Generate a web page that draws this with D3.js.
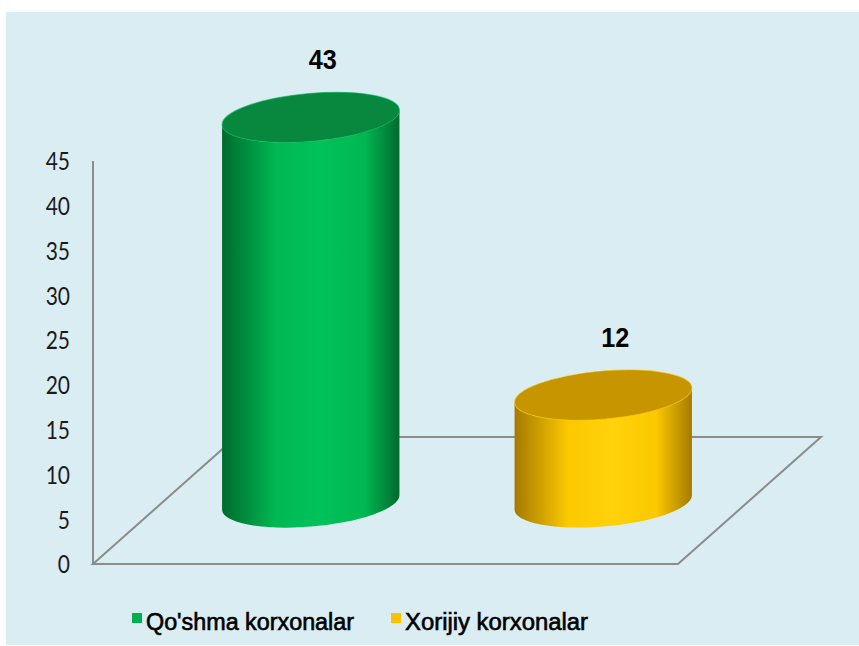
<!DOCTYPE html>
<html>
<head>
<meta charset="utf-8">
<script src="https://cdnjs.cloudflare.com/ajax/libs/d3/7.8.5/d3.min.js"></script>
<style>
  html, body { margin: 0; padding: 0; background: #fff; }
  svg { display: block; }
</style>
</head>
<body>
<div id="chart"></div>
<script>
// data
var categories = ["Qo'shma korxonalar", "Xorijiy korxonalar"];
var values = [43, 12];
var tickValues = [0, 5, 10, 15, 20, 25, 30, 35, 40, 45];
var seriesColors = [
  { top: '#07883e', dark: '#006a2d', mid: '#00b853', light: '#00c25a', legend: '#00b050' },
  { top: '#c69500', dark: '#a47a00', mid: '#fcc800', light: '#ffd20a', legend: '#ffc000' }
];

// params
var width = 859;
var height = 646;
var floorLeft = 93;
var floorRight = 678;
var floorFront = 564;
var depthX = 143;
var depthY = 127;
var cylRx = 89;
var cylRy = 24;
var tilt = -5;

var svg = d3.select('#chart').append('svg')
  .attr('width', width)
  .attr('height', height);

var defs = svg.append('defs');

// panel background
svg.append('rect')
  .attr('x', 6).attr('y', 12)
  .attr('width', width - 6).attr('height', 633)
  .attr('fill', '#daedf3');

var y = d3.scaleLinear().domain([0, 45]).range([floorFront, 161]);
var x = d3.scaleBand().domain(categories).range([floorLeft, floorRight]).padding(0);

// y axis line + labels
svg.append('line')
  .attr('x1', floorLeft).attr('x2', floorLeft)
  .attr('y1', y(45)).attr('y2', y(0))
  .attr('stroke', '#8c8c8c').attr('stroke-width', 2);

svg.append('g').selectAll('text')
  .data(tickValues)
  .enter().append('text')
  .attr('transform', d => 'translate(70,' + (y(d) + 3) + ') scale(0.84,1)')
  .attr('text-anchor', 'end')
  .attr('dominant-baseline', 'middle')
  .attr('font-family', 'Lato, "Open Sans", sans-serif')
  .attr('font-size', 25)
  .attr('fill', '#1a1a1a')
  .text(d => d);

// floor
var floorPts = [
  [floorLeft, floorFront],
  [floorRight, floorFront],
  [floorRight + depthX, floorFront - depthY],
  [floorLeft + depthX, floorFront - depthY]
];
svg.append('path')
  .attr('d', d3.line()(floorPts) + 'Z')
  .attr('fill', 'none')
  .attr('stroke', '#8c8c8c')
  .attr('stroke-width', 2);

// rotated ellipse tangent points (left/right extremes)
var th = tilt * Math.PI / 180;
var tt = Math.atan(-cylRy * Math.sin(th) / (cylRx * Math.cos(th)));
var ex = cylRx * Math.cos(tt) * Math.cos(th) - cylRy * Math.sin(tt) * Math.sin(th);
var ey = cylRx * Math.cos(tt) * Math.sin(th) + cylRy * Math.sin(tt) * Math.cos(th);

values.forEach(function(v, i) {
  var c = seriesColors[i];
  var g = defs.append('linearGradient')
    .attr('id', 'body' + i)
    .attr('x1', '0%').attr('x2', '100%').attr('y1', '0%').attr('y2', '0%');
  g.append('stop').attr('offset', '0%').attr('stop-color', c.dark);
  g.append('stop').attr('offset', '30%').attr('stop-color', c.mid);
  g.append('stop').attr('offset', '55%').attr('stop-color', c.light);
  g.append('stop').attr('offset', '80%').attr('stop-color', c.mid);
  g.append('stop').attr('offset', '100%').attr('stop-color', c.dark);
});

var cyl = svg.append('g').selectAll('g.cyl')
  .data(values)
  .enter().append('g')
  .attr('class', 'cyl');

cyl.each(function(v, i) {
  var sel = d3.select(this);
  var cx = x(categories[i]) + x.bandwidth() / 2 + depthX / 2;
  var baseY = y(0) - depthY / 2 + 2;
  var topY = baseY - (y(0) - y(v));
  var c = seriesColors[i];

  var body = 'M' + (cx - ex) + ',' + (topY - ey) +
    'L' + (cx - ex) + ',' + (baseY - ey) +
    'A' + cylRx + ',' + cylRy + ' ' + tilt + ' 0 0 ' + (cx + ex) + ',' + (baseY + ey) +
    'L' + (cx + ex) + ',' + (topY + ey) +
    'A' + cylRx + ',' + cylRy + ' ' + tilt + ' 0 1 ' + (cx - ex) + ',' + (topY - ey) + 'Z';

  sel.append('path')
    .attr('d', body)
    .attr('fill', 'url(#body' + i + ')');

  sel.append('ellipse')
    .attr('cx', 0).attr('cy', 0)
    .attr('rx', cylRx).attr('ry', cylRy)
    .attr('transform', 'translate(' + cx + ',' + topY + ') rotate(' + tilt + ')')
    .attr('fill', c.top)
    .attr('stroke', c.mid)
    .attr('stroke-opacity', 0.6)
    .attr('stroke-width', 1);

  // value label
  sel.append('text')
    .attr('transform', 'translate(' + (cx + 12) + ',' + (topY - cylRy - 24) + ') scale(0.9,1)')
    .attr('text-anchor', 'middle')
    .attr('font-family', '"Liberation Sans", Arial, sans-serif')
    .attr('font-weight', 'bold')
    .attr('font-size', 28)
    .attr('fill', '#000')
    .text(v);
});

// legend
var legendX = [132, 391];
var legendW = [208, 183];
var legend = svg.append('g').selectAll('g')
  .data(categories)
  .enter().append('g')
  .attr('transform', (d, i) => 'translate(' + legendX[i] + ',0)');
legend.append('rect')
  .attr('x', 0).attr('y', 613)
  .attr('width', 10).attr('height', 10)
  .attr('fill', (d, i) => seriesColors[i].legend);
legend.append('text')
  .attr('x', 14)
  .attr('y', 630)
  .attr('font-family', '"Liberation Sans", Arial, sans-serif')
  .attr('font-size', 23)
  .attr('fill', '#000')
  .attr('stroke', '#000')
  .attr('stroke-width', 0.6)
  .attr('textLength', (d, i) => legendW[i])
  .attr('lengthAdjust', 'spacingAndGlyphs')
  .text(d => d);
</script>
</body>
</html>
